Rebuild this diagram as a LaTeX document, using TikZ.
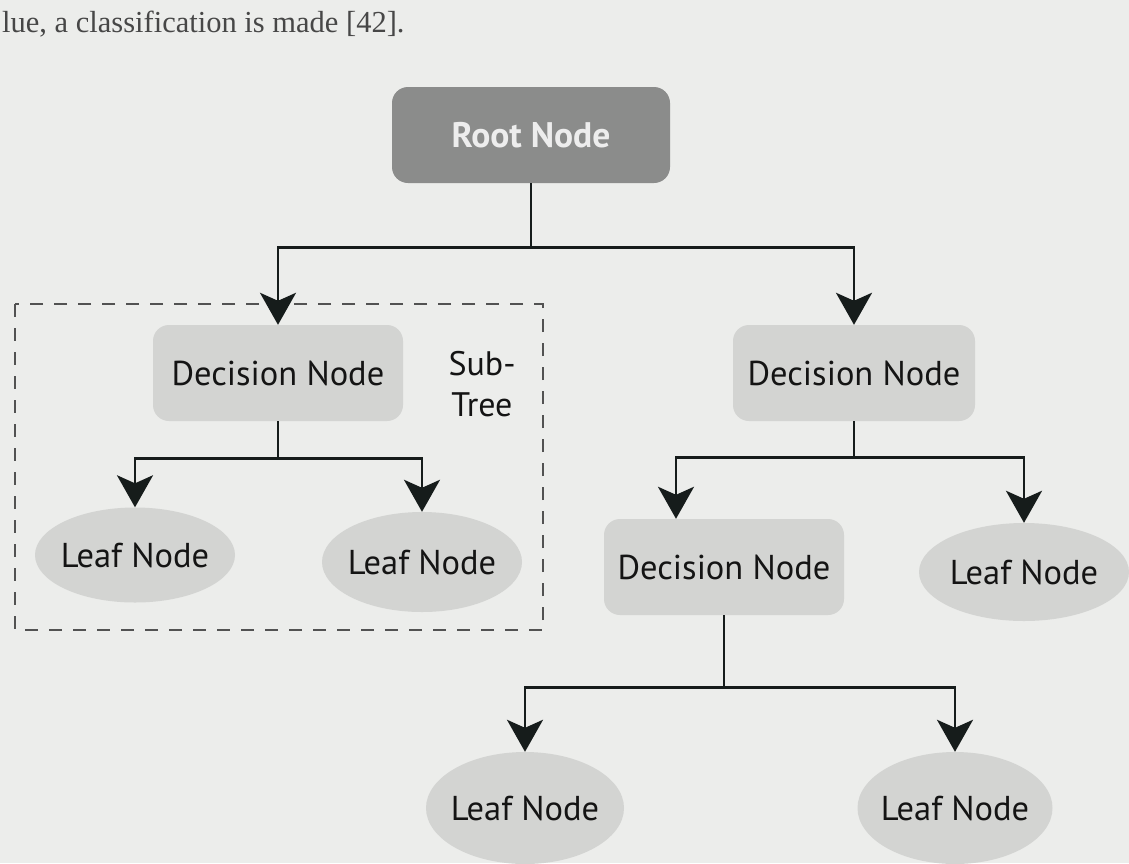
\documentclass[tikz,border=0pt]{standalone}
\usepackage{fontspec}
\setmainfont{PT Sans}
\newfontfamily\pagefont{Liberation Serif}
\usetikzlibrary{arrows.meta,shapes.geometric}

\definecolor{paper}{HTML}{ECEDEB}
\definecolor{boxgrey}{HTML}{D3D4D2}
\definecolor{rootgrey}{HTML}{8B8C8B}
\definecolor{wire}{HTML}{161C1B}
\definecolor{ink}{HTML}{141414}

\tikzset{
	decbox/.style={rectangle, rounded corners=16pt, fill=boxgrey, text=ink, minimum width=250pt, minimum height=96pt, font=\fontsize{34.5}{38}\selectfont},
	rootbox/.style={decbox, fill=rootgrey, text=white!93!black, minimum width=278pt, font=\fontsize{35.5}{38}\selectfont\bfseries},
	leafnode/.style={ellipse, fill=boxgrey, text=ink, inner xsep=-12pt, inner ysep=0pt, minimum width=200pt, minimum height=96pt, font=\fontsize{34.5}{38}\selectfont},
	arr/.style={line width=2.6pt, draw=wire, -{Stealth[length=32pt,width=36pt,inset=8pt]}},
}

\begin{document}
\begin{tikzpicture}[x=1pt, y=-1pt]
			%%%%% START %%%%%
			
			\useasboundingbox[fill=paper] (0, 0) rectangle (1129, 863);
			
			\node[anchor=base west, font=\pagefont\fontsize{30.5}{34}\selectfont, text=black!72, inner sep=0pt] (intro) at (2, 32) {lue, a classification is made [42].};
			
			\node[rootbox] (root) at (531, 135) {Root Node};
			
			\node[decbox] (decl) at (278, 373) {Decision Node};
			\node[decbox, minimum width=242pt] (decr) at (854, 373) {Decision Node};
			\node[decbox, minimum width=240pt] (decc) at (724, 567) {Decision Node};
			
			\node[leafnode, minimum height=95pt] (leafa) at (135, 555) {Leaf Node};
			\node[leafnode, minimum height=100pt] (leafb) at (422, 562) {Leaf Node};
			\node[leafnode, minimum width=210pt, minimum height=98pt] (leafc) at (1024, 572) {Leaf Node};
			\node[leafnode, minimum width=198pt, minimum height=112pt] (leafd) at (525, 808) {Leaf Node};
			\node[leafnode, minimum width=195pt, minimum height=112pt] (leafe) at (955, 808) {Leaf Node};
			
			\node[align=center, font=\fontsize{34}{41}\selectfont, text=ink] (subtree) at (482, 384) {Sub-\\Tree};
			\draw[line width=1.8pt, draw=black!68, dash pattern=on 13pt off 11pt] (15, 304) rectangle (543, 630);
			
			\draw[arr] (root.south) -- ++(0, 64) -| (decl.north);
			\draw[arr] (root.south) -- ++(0, 64) -| (decr.north);
			
			\draw[arr] (decl.south) -- ++(0, 37) -| (leafa.north);
			\draw[arr] (decl.south) -- ++(0, 37) -| (leafb.north);
			
			\draw[arr] (decr.south) -- ++(0, 36) -| ([xshift=-48pt]decc.north);
			\draw[arr] (decr.south) -- ++(0, 36) -| (leafc.north);
			
			\draw[arr] (decc.south) -- ++(0, 72) -| (leafd.north);
			\draw[arr] (decc.south) -- ++(0, 72) -| (leafe.north);
			
			%%%%% END %%%%%
\end{tikzpicture}
\end{document}
